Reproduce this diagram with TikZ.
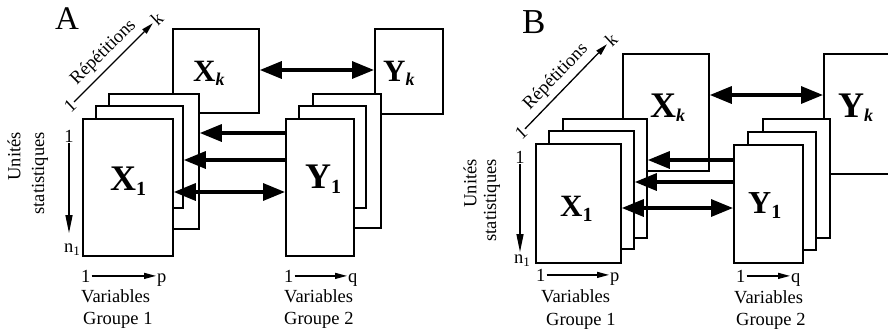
\documentclass[tikz,border=0pt]{standalone}
\usepackage{fontspec}
\setmainfont{Liberation Serif}
\usetikzlibrary{arrows.meta}

% subscripts for the block names
\newcommand\subone{\raisebox{-5pt}{\fontsize{20}{20}\selectfont\bfseries 1}}
\newcommand\subk{\raisebox{-4pt}{\fontsize{18}{18}\selectfont\itshape k}}
\newcommand\nsub{n\raisebox{-3pt}{\fontsize{13}{13}\selectfont 1}}

\begin{document}
\begin{tikzpicture}[x=1pt, y=-1pt,
  card/.style={draw, fill=white, line width=1.8pt, inner sep=0pt, anchor=north west},
  link/.style={line width=3.3pt, -{Triangle[length=22pt,width=17pt]}},
  link2/.style={line width=3.3pt, {Triangle[length=22pt,width=17pt]}-{Triangle[length=22pt,width=17pt]}},
  txt/.style={font=\fontsize{18.5}{20}\selectfont, inner sep=1pt},
  axis/.style={line width=1.3pt, -{Triangle[length=12pt,width=6pt]}},
  vaxis/.style={line width=1.3pt, -{Triangle[length=18pt,width=7pt]}},
  panel/.style={font=\fontsize{33}{33}\selectfont, inner sep=0pt, anchor=base west},
  blockname/.style={font=\fontsize{#1}{#1}\selectfont\bfseries, inner sep=0pt, anchor=base west},
]
\useasboundingbox (0,0) rectangle (888,335);

% ================= panel A =================
\node[panel] (lA) at (55,29) {A};

% blocks of group 1
\node[card, minimum width=86pt, minimum height=84pt]  (XkA) at (172,28) {};
\node[card, minimum width=90pt, minimum height=135pt] (XcA) at (108,93) {};
\node[card, minimum width=87pt, minimum height=102pt] (XbA) at (95,105) {};
\node[card, minimum width=90pt, minimum height=137pt] (XaA) at (82,118) {};
% blocks of group 2
\node[card, minimum width=68pt, minimum height=85pt]  (YkA) at (374,28) {};
\node[card, minimum width=68pt, minimum height=134pt] (YcA) at (312,93) {};
\node[card, minimum width=67pt, minimum height=102pt] (YbA) at (298,105) {};
\node[card, minimum width=68pt, minimum height=137pt] (YaA) at (285,118) {};

\node[blockname=36] (nXaA) at (110,190) {X\subone};
\node[blockname=36] (nYaA) at (305,188) {Y\subone};
\node[blockname=31] (nXkA) at (193,81) {X\subk};
\node[blockname=31] (nYkA) at (383,81) {Y\subk};

% links between the tables
\draw[link]  (YaA.west |- 0,133) -- (XcA.east |- 0,133);
\draw[link]  (YaA.west |- 0,160) -- (XbA.east |- 0,160);
\draw[link2] (XaA.east |- 0,192) -- (YaA.west |- 0,192);
\draw[link2] (XkA.east |- 0,70)  -- (YkA.west |- 0,70);

% repetitions axis
\node[txt, rotate=43] (rA1) at (70,106) {1};
\node[txt, rotate=43] (rAk) at (157,19) {k};
\draw[axis] (rA1) -- (rAk) node[txt, midway, sloped, above=4pt] {Répétitions};

% statistical units axis
\node[txt, rotate=90, anchor=east] (uA) at (14,131) {Unités};
\node[txt, rotate=90, anchor=east] (sA) at (40,131) {statistiques};
\node[txt, anchor=base] (vA1) at (69,142) {1};
\node[txt, anchor=base] (vAn) at (72,252) {\nsub};
\draw[vaxis, shorten >=9pt] (vA1.south) -- (vA1.south |- vAn.north);

% variables axes
\node[txt, anchor=base west] (pA1) at (80,282) {1};
\node[txt, anchor=base west] (pAp) at (156,282) {p};
\draw[axis] (pA1) -- (pAp.west |- pA1);
\node[txt, anchor=base west] (varA1) at (80,302) {Variables};
\node[txt, anchor=base west] (grA1) at (82,324) {Groupe 1};

\node[txt, anchor=base west] (qA1) at (283,282) {1};
\node[txt, anchor=base west] (qAq) at (347,282) {q};
\draw[axis] (qA1) -- (qAq.west |- qA1);
\node[txt, anchor=base west] (varA2) at (283,302) {Variables};
\node[txt, anchor=base west] (grA2) at (283,324) {Groupe 2};

% ================= panel B =================
\node[panel, font=\fontsize{35}{35}\selectfont] (lB) at (522,33) {B};

\node[card, minimum width=86pt, minimum height=117pt] (XkB) at (622,53) {};
\node[card, minimum width=84pt, minimum height=119pt] (XcB) at (562,118) {};
\node[card, minimum width=85pt, minimum height=118pt] (XbB) at (548,130) {};
\node[card, minimum width=85pt, minimum height=119pt] (XaB) at (535,143) {};

\node[card, minimum width=70pt, minimum height=120pt] (YkB) at (823,53) {};
\node[card, minimum width=67pt, minimum height=119pt] (YcB) at (762,118) {};
\node[card, minimum width=68pt, minimum height=118pt] (YbB) at (747,131) {};
\node[card, minimum width=69pt, minimum height=118pt] (YaB) at (733,144) {};

\node[blockname=31] (nXaB) at (560,216) {X\subone};
\node[blockname=32] (nYaB) at (748,213) {Y\subone};
\node[blockname=36] (nXkB) at (650,117) {X\subk};
\node[blockname=36] (nYkB) at (838,117) {Y\subk};

\draw[link]  (YaB.west |- 0,160) -- (XcB.east |- 0,160);
\draw[link]  (YaB.west |- 0,182) -- (XbB.east |- 0,182);
\draw[link2] (XaB.east |- 0,208) -- (YaB.west |- 0,208);
\draw[link2] (XkB.east |- 0,95)  -- (YkB.west |- 0,95);

\node[txt, rotate=43] (rB1) at (521,133) {1};
\node[txt, rotate=43] (rBk) at (611,40) {k};
\draw[axis] (rB1) -- (rBk) node[txt, midway, sloped, above=4pt] {Répétitions};

\node[txt, rotate=90, anchor=east] (uB) at (470,158) {Unités};
\node[txt, rotate=90, anchor=east] (sB) at (492,158) {statistiques};
\node[txt, anchor=base] (vB1) at (520,163) {1};
\node[txt, anchor=base] (vBn) at (522,263) {\nsub};
\draw[vaxis, shorten >=1pt] (vB1.south) -- (vB1.south |- vBn.north);

\node[txt, anchor=base west] (pB1) at (535,281) {1};
\node[txt, anchor=base west] (pBp) at (609,281) {p};
\draw[axis] (pB1) -- (pBp.west |- pB1);
\node[txt, anchor=base west] (varB1) at (540,302) {Variables};
\node[txt, anchor=base west] (grB1) at (545,325) {Groupe 1};

\node[txt, anchor=base west] (qB1) at (735,282) {1};
\node[txt, anchor=base west] (qBq) at (790,282) {q};
\draw[axis] (qB1) -- (qBq.west |- qB1);
\node[txt, anchor=base west] (varB2) at (733,303) {Variables};
\node[txt, anchor=base west] (grB2) at (735,325) {Groupe 2};
\end{tikzpicture}
\end{document}
